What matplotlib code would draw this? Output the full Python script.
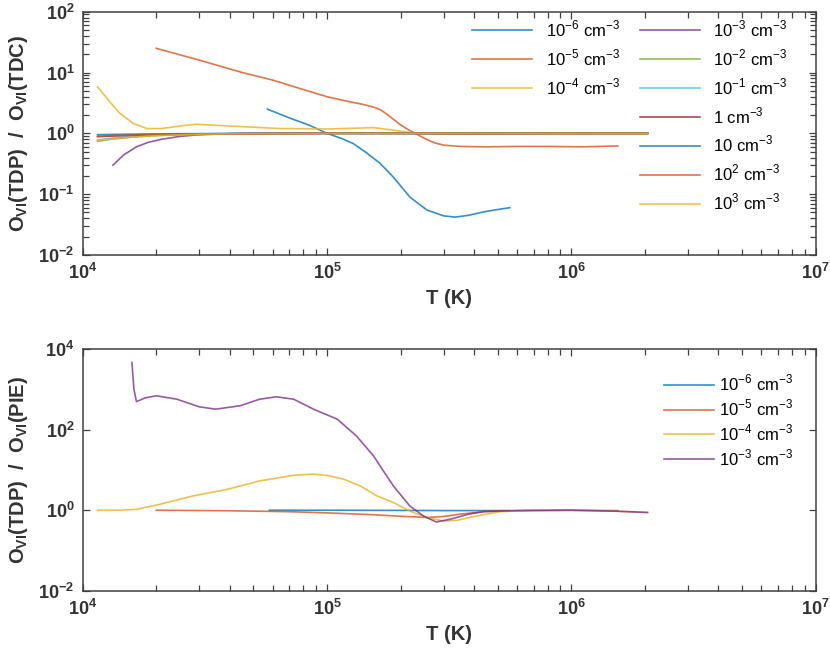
import matplotlib
matplotlib.use("Agg")
import matplotlib.pyplot as plt
from matplotlib.lines import Line2D
from matplotlib.ticker import LogLocator, NullLocator, FixedLocator

plt.rcParams['font.family'] = ['Liberation Sans', 'DejaVu Sans']
plt.rcParams['font.weight'] = 'bold'
plt.rcParams['mathtext.fontset'] = 'custom'
plt.rcParams['mathtext.rm'] = 'Liberation Sans'

MATLAB = ['#0072BD', '#D95319', '#EDB120', '#7E2F8E', '#77AC30', '#4DBEEE', '#A2142F']
TXT = '#333333'

# ---- top panel: TDP / TDC ----
T_n6 = [5.7e4, 7e4, 8.5e4, 1.0e5, 1.15e5, 1.28e5, 1.45e5, 1.65e5, 1.87e5, 2.18e5,
        2.56e5, 3.0e5, 3.35e5, 3.8e5, 4.36e5, 5.0e5, 5.6e5]
r_n6 = [2.5, 1.8, 1.35, 1.0, 0.82, 0.68, 0.48, 0.32, 0.19, 0.09,
        0.055, 0.044, 0.042, 0.045, 0.051, 0.056, 0.06]

T_n5 = [2e4, 3e4, 4.5e4, 6e4, 7.7e4, 1e5, 1.24e5, 1.4e5, 1.55e5, 1.65e5, 1.75e5,
        1.87e5, 2.0e5, 2.15e5, 2.3e5, 2.5e5, 2.75e5, 3e5, 3.5e5, 4.5e5, 6e5,
        8e5, 1.1e6, 1.55e6]
r_n5 = [25, 16, 10, 7.5, 5.5, 4.0, 3.3, 3.0, 2.7, 2.45, 2.1,
        1.7, 1.38, 1.15, 1.0, 0.83, 0.7, 0.64, 0.61, 0.6, 0.61,
        0.61, 0.6, 0.62]

T_n4 = [1.15e4, 1.18e4, 1.3e4, 1.42e4, 1.61e4, 1.83e4, 2.1e4, 2.5e4, 2.9e4, 4e4,
        6.4e4, 1e5, 1.55e5, 1.9e5, 2.3e5, 3e5, 5e5, 1e6, 2.05e6]
r_n4 = [5.8, 5.15, 3.2, 2.13, 1.46, 1.2, 1.2, 1.32, 1.41, 1.32,
        1.2, 1.18, 1.24, 1.12, 1.0, 0.97, 0.97, 0.98, 0.99]

T_n3 = [1.33e4, 1.47e4, 1.66e4, 1.85e4, 2.1e4, 2.5e4, 2.9e4, 4e4, 7e4, 1.5e5,
        4e5, 1e6, 2.05e6]
r_n3 = [0.30, 0.44, 0.60, 0.71, 0.80, 0.89, 0.94, 0.99, 1.0, 1.0, 0.99, 1.0, 1.0]

T_hi = [1.15e4, 1.3e4, 1.6e4, 2e4, 3e4, 5e4, 1e5, 3e5, 1e6, 2.05e6]
r_n2 = [0.74, 0.80, 0.87, 0.92, 0.97, 0.99, 1.0, 1.0, 1.0, 1.0]
r_n1 = [0.78, 0.83, 0.89, 0.93, 0.97, 0.99, 1.0, 1.0, 1.0, 1.0]
r_p0 = [0.88, 0.90, 0.93, 0.95, 0.98, 0.99, 1.0, 1.0, 1.0, 1.0]
r_p1 = [0.95, 0.96, 0.97, 0.98, 0.99, 1.0, 1.0, 1.0, 1.0, 1.0]
r_p2 = [0.90, 0.92, 0.94, 0.96, 0.98, 0.99, 1.0, 1.0, 1.0, 1.0]
r_p3 = [0.75, 0.80, 0.87, 0.92, 0.97, 0.99, 1.0, 1.0, 1.0, 1.0]

labels_top = ['10$^{\\mathdefault{-6}}$ cm$^{\\mathdefault{-3}}$',
              '10$^{\\mathdefault{-5}}$ cm$^{\\mathdefault{-3}}$',
              '10$^{\\mathdefault{-4}}$ cm$^{\\mathdefault{-3}}$',
              '10$^{\\mathdefault{-3}}$ cm$^{\\mathdefault{-3}}$',
              '10$^{\\mathdefault{-2}}$ cm$^{\\mathdefault{-3}}$',
              '10$^{\\mathdefault{-1}}$ cm$^{\\mathdefault{-3}}$',
              '1 cm$^{\\mathdefault{-3}}$',
              '10 cm$^{\\mathdefault{-3}}$',
              '10$^{\\mathdefault{2}}$ cm$^{\\mathdefault{-3}}$',
              '10$^{\\mathdefault{3}}$ cm$^{\\mathdefault{-3}}$']

# ---- bottom panel: TDP / PIE ----
Tb_n6 = [5.8e4, 1e5, 2e5, 3e5, 5.6e5]
rb_n6 = [1.0, 1.0, 0.99, 0.98, 0.98]

Tb_n5 = [2e4, 4e4, 7e4, 1e5, 1.5e5, 2e5, 2.56e5, 3e5, 3.5e5, 4.4e5, 6e5, 1e6, 1.55e6]
rb_n5 = [1.0, 0.97, 0.92, 0.86, 0.78, 0.71, 0.66, 0.7, 0.8, 0.92, 0.98, 1.0, 0.98]

Tb_n4 = [1.15e4, 1.4e4, 1.66e4, 2.07e4, 2.83e4, 3.9e4, 5.3e4, 7.3e4, 8.8e4, 1.02e5,
         1.17e5, 1.37e5, 1.6e5, 1.87e5, 2.18e5, 2.56e5, 3.0e5, 3.4e5, 4e5, 5.1e5,
         7e5, 1e6, 1.5e6, 2.05e6]
rb_n4 = [1.0, 1.0, 1.05, 1.41, 2.27, 3.3, 5.36, 7.4, 7.9, 7.2,
         5.9, 4.0, 2.27, 1.55, 0.96, 0.66, 0.54, 0.56, 0.7, 0.92,
         1.0, 1.0, 0.95, 0.88]

Tb_n3 = [1.59e4, 1.62e4, 1.66e4, 1.8e4, 2e4, 2.43e4, 3e4, 3.5e4, 4.4e4, 5.3e4,
         6.2e4, 7.3e4, 8.8e4, 1.1e5, 1.32e5, 1.55e5, 1.7e5, 1.87e5, 2.18e5, 2.48e5,
         2.8e5, 3.2e5, 3.8e5, 4.4e5, 6e5, 1e6, 1.5e6, 2.05e6]
rb_n3 = [4700, 1020, 500, 620, 700, 575, 372, 325, 394, 575,
         660, 575, 325, 184, 70, 22.4, 9.5, 4.0, 1.28, 0.72,
         0.51, 0.6, 0.8, 0.93, 0.98, 1.0, 0.95, 0.88]

W, H = 830, 651
fig = plt.figure(figsize=(W / 100, H / 100), dpi=100)
ax1 = fig.add_axes([82.7 / W, 1 - 255 / H, 733 / W, 243.3 / H])
ax2 = fig.add_axes([82.7 / W, 1 - 590.7 / H, 733 / W, 241.4 / H])

lw = 1.2
alpha = 0.8
top_series = [(T_n6, r_n6), (T_n5, r_n5), (T_n4, r_n4), (T_n3, r_n3),
              (T_hi, r_n2), (T_hi, r_n1), (T_hi, r_p0), (T_hi, r_p1),
              (T_hi, r_p2), (T_hi, r_p3)]
handles = []
for i, (t, r) in enumerate(top_series):
    h, = ax1.plot(t, r, color=MATLAB[i % 7], lw=lw, alpha=alpha)
    handles.append(h)

# first column holds 3 entries, second column 7 (pad column one with blanks)
blank = Line2D([], [], color='none')
leg_h = handles[:3] + [blank] * 4 + handles[3:]
leg_l = labels_top[:3] + [''] * 4 + labels_top[3:]
ax1.legend(leg_h, leg_l, ncol=2, loc='upper right',
           bbox_to_anchor=(0.977, 1.02), frameon=False,
           prop={'size': 12, 'weight': 'normal'},
           handlelength=3.6, handletextpad=0.8, columnspacing=1.2,
           labelspacing=0.5, borderpad=0.2)

bot_series = [(Tb_n6, rb_n6), (Tb_n5, rb_n5), (Tb_n4, rb_n4), (Tb_n3, rb_n3)]
for i, (t, r) in enumerate(bot_series):
    ax2.plot(t, r, color=MATLAB[i], lw=lw, alpha=alpha, label=labels_top[i])
ax2.legend(loc='upper right', bbox_to_anchor=(0.985, 0.95), frameon=False,
           prop={'size': 12, 'weight': 'normal'},
           handlelength=3.0, handletextpad=0.3, labelspacing=0.25, borderpad=0.2)

for ax in (ax1, ax2):
    ax.set_xscale('log')
    ax.set_yscale('log')
    ax.set_xlim(1e4, 1e7)
    ax.xaxis.set_major_locator(FixedLocator([1e4, 1e5, 1e6, 1e7]))
    ax.xaxis.set_minor_locator(LogLocator(base=10, subs=range(2, 10), numticks=20))
    ax.tick_params(which='both', direction='in', top=True, right=True,
                   colors='#404040', labelcolor=TXT, labelsize=13, width=0.9)
    ax.tick_params(which='major', length=5, pad=6)
    ax.tick_params(which='minor', length=4)
    for s in ax.spines.values():
        s.set_color('#404040')
        s.set_linewidth(1.1)
    ax.set_xlabel('T (K)', fontsize=14.5, fontweight='bold', color=TXT, labelpad=4)

ax1.set_ylim(1e-2, 1e2)
ax1.yaxis.set_major_locator(FixedLocator([1e-2, 1e-1, 1, 1e1, 1e2]))
ax1.yaxis.set_minor_locator(LogLocator(base=10, subs=range(2, 10), numticks=20))
ax1.set_ylabel('O$_{\\mathdefault{VI}}$(TDP)  /  O$_{\\mathdefault{VI}}$(TDC)',
               fontsize=14.5, fontweight='bold', color=TXT, labelpad=6)

ax2.set_ylim(1e-2, 1e4)
ax2.yaxis.set_major_locator(FixedLocator([1e-2, 1, 1e2, 1e4]))
ax2.yaxis.set_minor_locator(NullLocator())
ax2.set_ylabel('O$_{\\mathdefault{VI}}$(TDP)  /  O$_{\\mathdefault{VI}}$(PIE)',
               fontsize=14.5, fontweight='bold', color=TXT, labelpad=6)

fig.savefig('out.png', dpi=100)
